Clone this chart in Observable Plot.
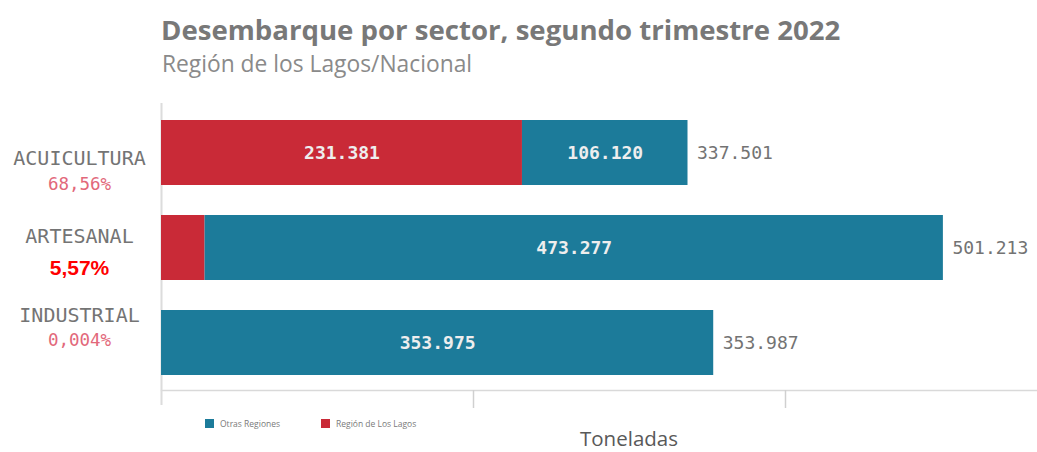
<!DOCTYPE html>
<html>
<head>
<meta charset="utf-8">
<script src="https://cdn.jsdelivr.net/npm/d3@7"></script>
<script src="https://cdn.jsdelivr.net/npm/@observablehq/plot@0.6"></script>
<style>
  html, body { margin: 0; padding: 0; background: #fff; }
  #wrap { position: relative; width: 1037px; height: 452px; overflow: hidden; font-family: "Open Sans", sans-serif; }
  #title { position: absolute; left: 161px; top: 9.8px; font-size: 27.6px; font-weight: 700; color: #787878; white-space: nowrap; }
  #subtitle { position: absolute; left: 162px; top: 48.3px; font-size: 22.8px; color: #8a8a8a; white-space: nowrap; }
  #chart { position: absolute; left: 0; top: 88px; }
  .leg { position: absolute; top: 418px; font-size: 8.5px; color: #7a7a7a; white-space: nowrap; display: flex; align-items: center; }
  .sw { display: inline-block; width: 9px; height: 9px; margin-right: 6px; }
  #xlabel { position: absolute; left: 580px; top: 428px; font-size: 20.5px; line-height: 20.5px; color: #595959; white-space: nowrap; }
</style>
</head>
<body>
<div id="wrap">
  <div id="title">Desembarque por sector, segundo trimestre 2022</div>
  <div id="subtitle">Región de los Lagos/Nacional</div>
  <div id="chart"></div>
  <div class="leg" id="leg1"></div>
  <div class="leg" id="leg2"></div>
  <div id="xlabel">Toneladas</div>
</div>
<script>
// ---- data ----
const categories = ["ACUICULTURA", "ARTESANAL", "INDUSTRIAL"];
const seriesNames = ["Región de Los Lagos", "Otras Regiones"];
const losLagos = [231381, 27936, 12];
const otrasRegiones = [106120, 473277, 353975];
const totals = [337501, 501213, 353987];
const shares = ["68,56%", "5,57%", "0,004%"];
const gridTicks = [200000, 400000];
const axisTitle = "Toneladas";

// ---- styling ----
const colors = ["#c92a37", "#1c7b9a"];
const highlightIndex = 1;
const fmt = d3.formatLocale({decimal: ",", thousands: ".", grouping: [3], currency: ["$", ""]}).format(",d");

const rows = [];
categories.forEach((c, i) => {
  rows.push({cat: c, series: seriesNames[0], value: losLagos[i]});
  rows.push({cat: c, series: seriesNames[1], value: otrasRegiones[i]});
});
const totalRows = categories.map((c, i) => ({cat: c, total: totals[i]}));
const shareRows = categories.map((c, i) => ({cat: c, share: shares[i]}));

const leftMarks = [];
categories.forEach((c, i) => {
  const nameDy = 5.6 - 16.7 * i;
  leftMarks.push(Plot.text([shareRows[i]], {
    y: "cat", text: "cat", frameAnchor: "left", dx: -82, dy: nameDy,
    textAnchor: "middle", fontFamily: "DejaVu Sans Mono", fontSize: 20, fill: "#747474"
  }));
  const hi = i === highlightIndex;
  leftMarks.push(Plot.text([shareRows[i]], {
    y: "cat", text: "share", frameAnchor: "left", dx: -82, dy: nameDy + (hi ? 31 : 25.5),
    textAnchor: "middle",
    fontFamily: hi ? "Liberation Sans" : "DejaVu Sans Mono",
    fontWeight: hi ? "bold" : "normal",
    fontSize: hi ? 21 : 17.5,
    fill: hi ? "#ff0000" : "#e2687a"
  }));
});

const chart = Plot.plot({
  width: 1037,
  height: 322,
  marginLeft: 161,
  marginRight: 0,
  marginTop: 0,
  marginBottom: 20,
  style: {fontFamily: "DejaVu Sans Mono", background: "transparent"},
  x: {domain: [0, 400000], range: [161, 785], axis: null},
  y: {domain: categories, range: [1, 317], padding: 0.32, axis: null},
  color: {domain: seriesNames, range: colors},
  marks: [
    // light strip under the bars
    (index, scales, values, dims) => {
      const yb = scales.y(categories[categories.length - 1]) + scales.y.bandwidth;
      const yEnd = dims.height - dims.marginBottom;
      return d3.create("svg:rect")
        .attr("x", dims.marginLeft).attr("width", dims.width - dims.marginLeft)
        .attr("y", yb + 1).attr("height", yEnd - yb - 1)
        .attr("fill", "#f5f5f5").node();
    },
    Plot.frame({anchor: "bottom", stroke: "#d9d9d9", strokeWidth: 1.5}),
    Plot.axisX(gridTicks, {tickSize: 18, tickFormat: () => "", stroke: "#d0d0d0", strokeWidth: 1.5}),
    Plot.ruleX([0], {stroke: "#dcdcdc", strokeWidth: 2, insetTop: 15, insetBottom: -15}),
    Plot.barX(rows, Plot.stackX({x: "value", y: "cat", fill: "series", order: seriesNames})),
    Plot.text(rows, Plot.stackX({
      x: "value", y: "cat", z: "series", order: seriesNames,
      text: d => d.value > 50000 ? fmt(d.value) : null,
      fill: "#eeeeee", fontWeight: "bold", fontSize: 18, fontFamily: "DejaVu Sans Mono"
    })),
    Plot.text(totalRows, {
      x: "total", y: "cat", text: d => fmt(d.total), dx: 9, textAnchor: "start",
      fill: "#737373", fontSize: 18, fontFamily: "DejaVu Sans Mono"
    }),
    ...leftMarks
  ]
});
document.getElementById("chart").appendChild(chart);

// legend (HTML, below the SVG)
const legPos = [{id: "leg2", left: 205, s: 1}, {id: "leg1", left: 321, s: 0}];
legPos.forEach(p => {
  const el = document.getElementById(p.id);
  el.style.left = p.left + "px";
  el.innerHTML = `<span class="sw" style="background:${colors[p.s]}"></span>${seriesNames[p.s]}`;
});
document.getElementById("xlabel").textContent = axisTitle;
</script>
</body>
</html>
